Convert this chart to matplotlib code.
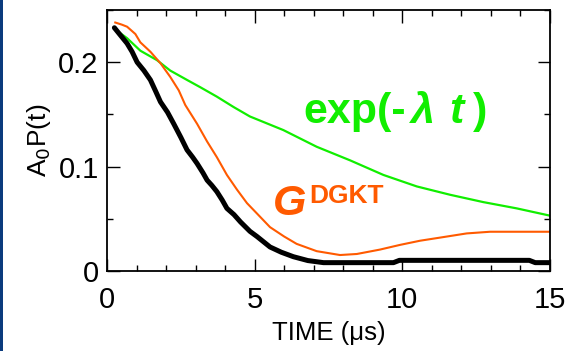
import numpy as np
import matplotlib
matplotlib.use('Agg')
import matplotlib.pyplot as plt
from matplotlib.patches import Rectangle

plt.rcParams['font.family'] = ['Liberation Sans', 'DejaVu Sans']

# measured asymmetry A0P(t)
t_data = [0.25, 0.45, 0.68, 0.85, 1.02, 1.25, 1.47, 1.65, 1.81, 2.05, 2.26, 2.5, 2.71, 2.9,
          3.05, 3.25, 3.39, 3.55, 3.72, 3.9, 4.06, 4.3, 4.52, 4.84, 5.08, 5.3, 5.52, 5.9,
          6.31, 6.8, 7.33, 8.0, 9.0, 9.7, 9.9, 11.0, 12.0, 13.0, 14.3, 14.5, 15.0]
a_data = [0.233, 0.226, 0.218, 0.210, 0.200, 0.192, 0.183, 0.172, 0.162, 0.152, 0.141, 0.128,
          0.116, 0.109, 0.103, 0.094, 0.087, 0.082, 0.076, 0.068, 0.060, 0.054, 0.047, 0.038,
          0.033, 0.028, 0.023, 0.018, 0.0137, 0.010, 0.008, 0.008, 0.008, 0.008, 0.0102,
          0.0102, 0.0102, 0.0102, 0.0102, 0.008, 0.008]

# dynamic Gaussian Kubo-Toyabe
t_dgkt = [0.28, 0.5, 0.68, 0.96, 1.13, 1.47, 1.81, 2.14, 2.43, 2.65, 3.05, 3.39, 3.72, 4.06,
          4.40, 4.74, 5.08, 5.52, 6.0, 6.42, 7.10, 7.89, 8.46, 9.24, 9.92, 10.6, 11.28,
          12.18, 12.97, 14.0, 15.0]
a_dgkt = [0.238, 0.236, 0.234, 0.227, 0.219, 0.210, 0.199, 0.186, 0.173, 0.159, 0.141, 0.124,
          0.109, 0.092, 0.078, 0.065, 0.055, 0.042, 0.033, 0.026, 0.019, 0.0153, 0.0163,
          0.0205, 0.025, 0.029, 0.032, 0.036, 0.0376, 0.0376, 0.0376]

# simple exponential
t_exp = [0.25, 0.68, 1.13, 1.69, 2.14, 2.71, 3.16, 3.72, 4.29, 4.84, 5.97, 7.10, 8.23, 9.36,
         10.49, 11.62, 12.74, 13.87, 15.0]
a_exp = [0.232, 0.223, 0.211, 0.202, 0.192, 0.183, 0.176, 0.167, 0.157, 0.148, 0.135, 0.119,
         0.106, 0.092, 0.081, 0.073, 0.066, 0.060, 0.053]

green = '#11ee00'
orange = '#ff5a00'

fig = plt.figure(figsize=(5.68, 3.51), dpi=100)
fig.patches.append(Rectangle((0, 0), 3 / 568, 1, transform=fig.transFigure,
                             facecolor='#0b3b7d', edgecolor='none'))
ax = fig.add_axes([107 / 568, 80 / 351, 443 / 568, 261 / 351])

ax.plot(t_exp, a_exp, color=green, lw=1.6)
ax.plot(t_dgkt, a_dgkt, color=orange, lw=1.5)
ax.plot(t_data, a_data, color='black', lw=3.6, solid_capstyle='round')

ax.set_xlim(0, 15)
ax.set_ylim(0, 0.25)
ax.set_xticks([0, 5, 10, 15])
ax.set_xticks(np.arange(0, 16, 1), minor=True)
ax.set_yticks([0, 0.1, 0.2])
ax.set_yticklabels(['0', '0.1', '0.2'])
ax.set_yticks(np.arange(0, 0.26, 0.05), minor=True)
ax.tick_params(which='both', direction='in', top=True, right=True, width=1)
ax.tick_params(which='major', length=9, labelsize=21, pad=6)
ax.tick_params(axis='x', which='major', pad=11)
ax.tick_params(which='minor', length=4)
for s in ax.spines.values():
    s.set_linewidth(1.3)

ax.set_xlabel('TIME (\u03bcs)', fontsize=18.5, labelpad=5)
ax.set_ylabel('A$_0$P(t)', fontsize=19, labelpad=4)

ax.text(6.64, 0.1416, 'exp(-', color=green, fontsize=31, fontweight='bold')
ax.text(10.3, 0.1416, '\u03bb', color=green, fontsize=31, fontweight='bold', style='italic')
ax.text(11.6, 0.1416, 't', color=green, fontsize=31, fontweight='bold', style='italic')
ax.text(12.4, 0.1416, ')', color=green, fontsize=31, fontweight='bold')

ax.text(5.62, 0.0536, 'G', color=orange, fontsize=31, fontweight='bold', style='italic')
ax.text(6.85, 0.065, 'DGKT', color=orange, fontsize=19, fontweight='bold')

fig.savefig('out.png', dpi=100)
